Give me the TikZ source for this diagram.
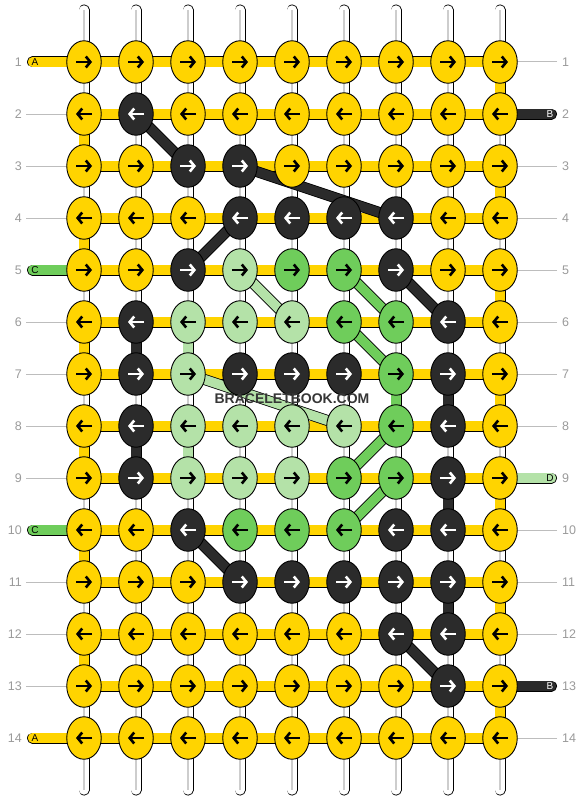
\documentclass[tikz,border=0pt]{standalone}
\usepackage{fontspec}
\setmainfont{Liberation Sans}
\usetikzlibrary{arrows.meta,shapes.geometric}
\definecolor{kY}{HTML}{FFD400}
\definecolor{kK}{HTML}{2B2B2B}
\definecolor{kG}{HTML}{6FCD5B}
\definecolor{kL}{HTML}{B4E2A8}
\definecolor{numgray}{HTML}{9A9A9A}
\definecolor{guidegray}{HTML}{BDBDBD}
\definecolor{rodgray}{HTML}{CDCDCD}
\pgfdeclarelayer{rods}
\pgfdeclarelayer{links}
\pgfsetlayers{rods,links,main}

\begin{document}
\begin{tikzpicture}[x=1pt,y=-1pt,
    knot/.style={ellipse,draw=black,line width=0.9pt,minimum width=34.5pt,minimum height=42.5pt,inner sep=0pt},
    strand/.style={draw=black,line width=0.8pt,double=#1,double distance=9.4pt},
    rod/.style={strand=white,line cap=round},
    arr/.style={line width=2.6pt,-{Straight Barb[length=4.5pt,width=11pt]}},
    inkY/.style={black},inkG/.style={black},inkL/.style={black},inkK/.style={white},
    guide/.style={draw=guidegray,line width=1pt},
    num/.style={text=numgray,inner sep=0pt,font=\fontsize{12.5}{14}\selectfont},
    tag/.style={inner sep=0pt,font=\fontsize{10}{12}\selectfont}]
    \useasboundingbox (0,0) rectangle (584,800);
    \foreach \cols [count=\r] in {{Y,Y,Y,Y,Y,Y,Y,Y,Y},{Y,K,Y,Y,Y,Y,Y,Y,Y},{Y,Y,K,K,Y,Y,Y,Y,Y},
        {Y,Y,Y,K,K,K,K,Y,Y},{Y,Y,K,L,G,G,K,Y,Y},{Y,K,L,L,L,G,G,K,Y},{Y,K,L,K,K,K,G,K,Y},
        {Y,K,L,L,L,L,G,K,Y},{Y,K,L,L,L,G,G,K,Y},{Y,Y,K,G,G,G,K,K,Y},{Y,Y,Y,K,K,K,K,K,Y},
        {Y,Y,Y,Y,Y,Y,K,K,Y},{Y,Y,Y,Y,Y,Y,Y,K,Y},{Y,Y,Y,Y,Y,Y,Y,Y,Y}}
      \foreach \k [count=\c] in \cols {
        \node[knot,fill=k\k] (k-\r-\c) at ({32+52*\c},{10+52*\r}) {};
        \ifodd\r\relax
          \draw[arr,ink\k] ([xshift=-8pt]k-\r-\c.center) -- ([xshift=8pt]k-\r-\c.center);
        \else
          \draw[arr,ink\k] ([xshift=8pt]k-\r-\c.center) -- ([xshift=-8pt]k-\r-\c.center);
        \fi
      }
    \begin{pgfonlayer}{rods}
      \foreach \c in {1,...,9} {
        \coordinate (top-\c) at ({32+52*\c},10);
        \coordinate (bot-\c) at ({32+52*\c},790);
        \draw[rod] (top-\c) -- (bot-\c);
        \draw[rodgray,line width=2.4pt] (top-\c) -- (bot-\c);
      }
      \foreach \r in {2,3,4,6,7,8,9,11,12,13} {
        \coordinate (gl-\r) at (26,{10+52*\r});
        \draw[guide] (gl-\r) -- (k-\r-1.center);
      }
      \foreach \r in {1,3,4,5,6,7,8,10,11,12,14} {
        \coordinate (gr-\r) at (557,{10+52*\r});
        \draw[guide] (gr-\r) -- (k-\r-9.center);
      }
    \end{pgfonlayer}
    \begin{pgfonlayer}{links}
      \foreach \r in {1,...,14} {
        \foreach \c in {1,...,8} {
          \pgfmathtruncatemacro\nxt{\c+1}
          \draw[strand=kY] (k-\r-\c.center) -- (k-\r-\nxt.center);
        }
      }
      \foreach \r/\c/\k in {2/1/Y,4/1/Y,6/1/Y,8/1/Y,10/1/Y,12/1/Y,
          1/9/Y,3/9/Y,5/9/Y,7/9/Y,9/9/Y,11/9/Y,13/9/Y,
          6/2/K,8/2/K,7/8/K,9/8/K,11/8/K,6/3/L,8/3/L,7/7/G} {
        \pgfmathtruncatemacro\nxt{\r+1}
        \draw[strand=k\k] (k-\r-\c.center) -- (k-\nxt-\c.center);
      }
      \foreach \a/\b/\k in {2-2/3-3/K,3-4/4-7/K,4-4/5-3/K,5-7/6-8/K,10-3/11-4/K,12-7/13-8/K,
          5-6/6-7/G,6-6/7-7/G,8-7/9-6/G,9-7/10-6/G,5-4/6-5/L,7-3/8-6/L}
        \draw[strand=k\k] (k-\a.center) -- (k-\b.center);
      \foreach \r/\k/\lab in {1/Y/A,5/G/C,10/G/C,14/Y/A} {
        \coordinate (tl-\r) at (32.5,{10+52*\r});
        \draw[strand=k\k,line cap=round] (tl-\r) -- (k-\r-1.center);
        \node[tag,ink\k] (lab-l-\r) at (35,{10+52*\r}) {\lab};
      }
      \foreach \r/\k/\lab in {2/K/B,9/L/D,13/K/B} {
        \coordinate (tr-\r) at (551.5,{10+52*\r});
        \draw[strand=k\k,line cap=round] (tr-\r) -- (k-\r-9.center);
        \node[tag,ink\k] (lab-r-\r) at (550,{10+52*\r}) {\lab};
      }
    \end{pgfonlayer}
    \foreach \r in {1,...,14} {
      \node[num,anchor=east] (nl-\r) at (22,{10+52*\r}) {\r};
      \node[num,anchor=west] (nr-\r) at (562,{10+52*\r}) {\r};
    }
    \node[font=\bfseries\fontsize{14}{16}\selectfont,text=kK!95,inner sep=0pt] (mark) at (292,399) {BRACELETBOOK.COM};
\end{tikzpicture}
\end{document}
